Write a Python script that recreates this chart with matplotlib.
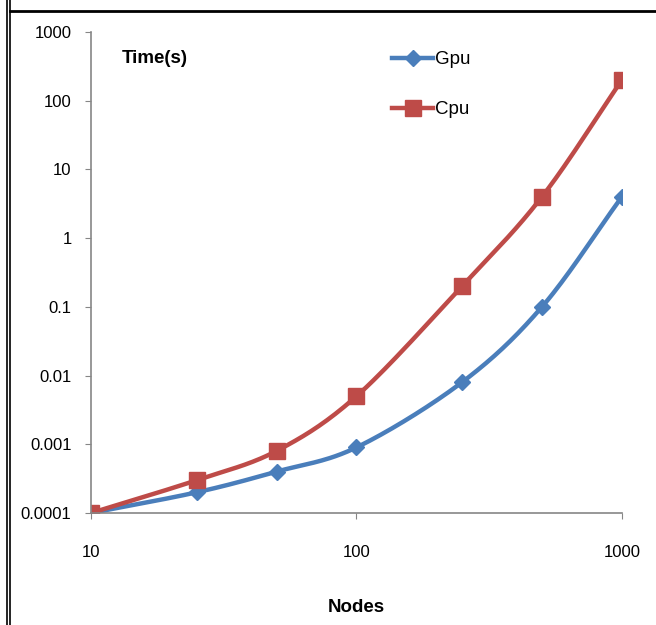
import matplotlib.pyplot as plt
import numpy as np
from matplotlib.lines import Line2D

nodes = [10, 25, 50, 100, 250, 500, 1000]
gpu = [0.0001, 0.0002, 0.0004, 0.0009, 0.008, 0.1, 4]
cpu = [0.0001, 0.0003, 0.0008, 0.005, 0.2, 4, 200]
yticks = [0.0001, 0.001, 0.01, 0.1, 1, 10, 100, 1000]
ytick_labels = ['0.0001', '0.001', '0.01', '0.1', '1', '10', '100', '1000']
xticks = [10, 100, 1000]
xtick_labels = ['10', '100', '1000']

plt.rcParams['font.family'] = ['Liberation Sans', 'DejaVu Sans']


def smooth(x, y, n=30):
    # Catmull-Rom in log-log space, like Excel's smoothed line
    lx, ly = np.log10(x), np.log10(y)
    px = np.concatenate([[2 * lx[0] - lx[1]], lx, [2 * lx[-1] - lx[-2]]])
    py = np.concatenate([[2 * ly[0] - ly[1]], ly, [2 * ly[-1] - ly[-2]]])
    ox, oy = [], []
    t = np.linspace(0, 1, n)
    for i in range(1, len(px) - 2):
        for p, out in ((px, ox), (py, oy)):
            p0, p1, p2, p3 = p[i - 1], p[i], p[i + 1], p[i + 2]
            out.extend(0.5 * (2 * p1 + (-p0 + p2) * t
                              + (2 * p0 - 5 * p1 + 4 * p2 - p3) * t ** 2
                              + (-p0 + 3 * p1 - 3 * p2 + p3) * t ** 3))
    return 10 ** np.array(ox), 10 ** np.array(oy)


fig = plt.figure(figsize=(6.56, 6.25), dpi=100)
ax = fig.add_axes([0.1387, 0.1792, 0.8093, 0.7696])

blue = '#4A7EBB'
red = '#BE4B48'

sx, sy = smooth(nodes, gpu)
ax.plot(sx, sy, color=blue, lw=3.2, solid_capstyle='round')
ax.plot(nodes, gpu, linestyle='none', marker='D', ms=8, color=blue)
sx, sy = smooth(nodes, cpu)
ax.plot(sx, sy, color=red, lw=3.2, solid_capstyle='round')
ax.plot(nodes, cpu, linestyle='none', marker='s', ms=11, color=red)

ax.set_xscale('log')
ax.set_yscale('log')
ax.set_xlim(10, 1000)
ax.set_ylim(0.0001, 1000)
ax.set_yticks(yticks)
ax.set_yticklabels(ytick_labels)
ax.set_xticks(xticks)
ax.set_xticklabels(xtick_labels)
ax.minorticks_off()
ax.tick_params(axis='both', direction='out', length=4, color='#868686',
               labelsize=12, pad=10)
ax.tick_params(axis='x', pad=19)
for s in ['top', 'right']:
    ax.spines[s].set_visible(False)
for s in ['left', 'bottom']:
    ax.spines[s].set_color('#868686')
    ax.spines[s].set_linewidth(1.2)

ax.set_xlabel('Nodes', fontsize=13.5, fontweight='bold', labelpad=28)
ax.text(0.058, 0.945, 'Time(s)', transform=ax.transAxes, fontsize=13.5,
        fontweight='bold', va='center')

handles = [Line2D([], [], color=blue, lw=3.2, marker='D', ms=8),
           Line2D([], [], color=red, lw=3.2, marker='s', ms=11)]
ax.legend(handles, ['Gpu', 'Cpu'], loc='upper left',
          bbox_to_anchor=(0.535, 0.995), frameon=False, fontsize=13.5,
          handlelength=2.2, handletextpad=0.1, labelspacing=1.75)

# page frame lines
for x in [6.5 / 656, 10 / 656]:
    fig.add_artist(Line2D([x, x], [0, 1], color='black', lw=1.2,
                          transform=fig.transFigure))
fig.add_artist(Line2D([10 / 656, 1], [1 - 10.5 / 625, 1 - 10.5 / 625],
                      color='black', lw=2, transform=fig.transFigure))

plt.savefig('out.png', dpi=100)
plt.close()
